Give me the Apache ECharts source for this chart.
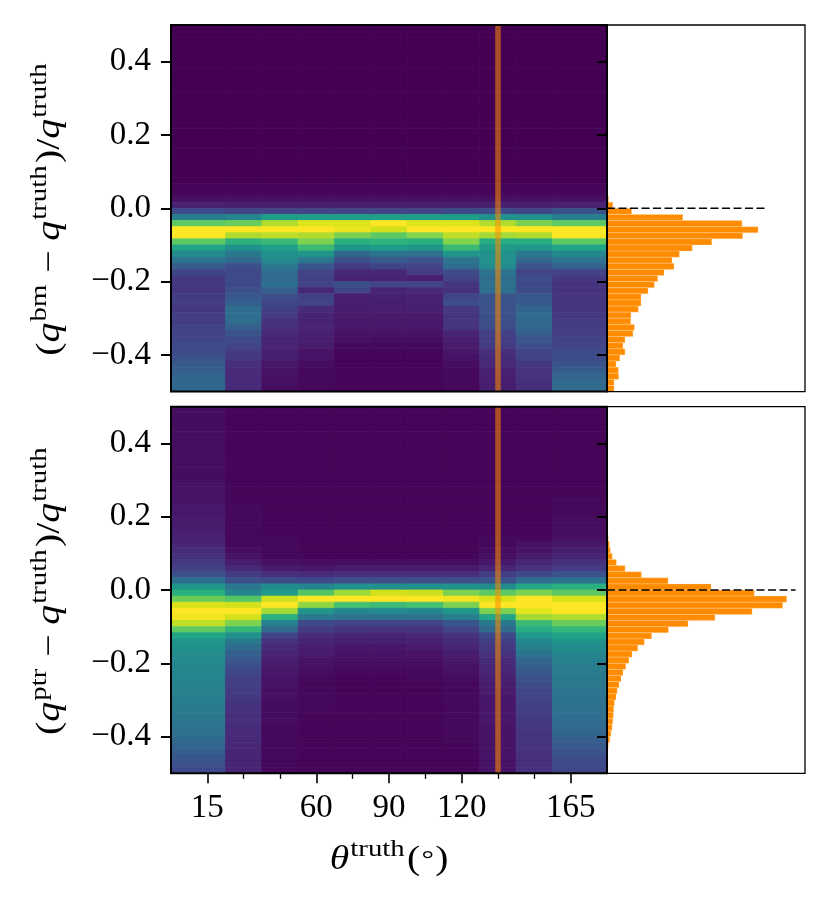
<!DOCTYPE html>
<html><head><meta charset="utf-8">
<script src="https://cdn.jsdelivr.net/npm/echarts@6/dist/echarts.min.js"></script>
<style>html,body{margin:0;padding:0;background:#fff}#c{width:830px;height:905px}</style>
</head><body><div id="c"></div>
<script>
// ---------------- data ----------------
const thetaEdges = [0, 22.5, 37.5, 52.5, 67.5, 82.5, 97.5, 112.5, 127.5, 142.5, 157.5, 180];
const qRange = [-0.5, 0.5];
const nQBins = 60;
const markerTheta = 135;
const xMajorTicks = [15, 60, 90, 120, 165];
const xMinorTicks = [30, 45, 75, 105, 135, 150];
const yTicks = [-0.4, -0.2, 0, 0.2, 0.4];
const histAxisMax = 11.0;

// column-normalised densities; each column listed from q=+0.5 (top row) down to q=-0.5
const bmCol0 = [0,0,0,0,0,0,0,0,0,0,0,0,0,0,0,0,0,0,0,0,0,0,0,0,0,0, 0.01,0.02,0.04,0.09,
  0.22,0.42,0.75,1.0,1.0,0.75,0.58,0.48,0.38,0.29, 0.21,0.16,0.16,0.15,0.17,0.18,0.16,0.18,0.17,0.19, 0.2,0.2,0.22,0.22,0.25,0.28,0.3,0.32,0.33,0.33];
const bmCol1 = [0,0,0,0,0,0,0,0,0,0,0,0,0,0,0,0,0,0,0,0,0,0,0,0,0,0, 0.01,0.02,0.04,0.08,
  0.2,0.45,0.77,1.0,0.88,0.64,0.5,0.4,0.34,0.24, 0.22,0.22,0.22,0.24,0.27,0.3,0.35,0.36,0.35,0.3, 0.25,0.22,0.2,0.17,0.16,0.13,0.12,0.12,0.12,0.12];
const bmCol2 = [0,0,0,0,0,0,0,0,0,0,0,0,0,0,0,0,0,0,0,0,0,0,0,0,0,0, 0.01,0.02,0.04,0.08,
  0.2,0.55,0.88,1.0,0.9,0.68,0.56,0.5,0.47,0.4, 0.35,0.34,0.36,0.3,0.24,0.21,0.19,0.17,0.14,0.13, 0.12,0.1,0.1,0.09,0.08,0.06,0.05,0.04,0.04,0.03];
const bmCol3 = [0,0,0,0,0,0,0,0,0,0,0,0,0,0,0,0,0,0,0,0,0,0,0,0,0,0, 0.01,0.02,0.04,0.08,
  0.2,0.55,0.95,1.0,0.88,0.8,0.68,0.52,0.4,0.27, 0.2,0.19,0.2,0.11,0.19,0.2,0.12,0.1,0.09,0.1, 0.08,0.08,0.07,0.05,0.05,0.03,0.02,0.02,0.02,0.02];
const bmCol4 = [0,0,0,0,0,0,0,0,0,0,0,0,0,0,0,0,0,0,0,0,0,0,0,0,0,0, 0.01,0.02,0.04,0.08,
  0.2,0.55,0.95,0.97,0.8,0.63,0.52,0.33,0.24,0.17, 0.11,0.09,0.24,0.2,0.08,0.08,0.07,0.07,0.06,0.06, 0.05,0.04,0.02,0.01,0.01,0.01,0.01,0.01,0.01,0.01];
const bmCol5 = [0,0,0,0,0,0,0,0,0,0,0,0,0,0,0,0,0,0,0,0,0,0,0,0,0,0, 0.01,0.02,0.04,0.08,
  0.2,0.55,1.0,0.93,0.75,0.65,0.55,0.38,0.28,0.21, 0.11,0.1,0.2,0.1,0.09,0.08,0.08,0.07,0.06,0.06, 0.05,0.03,0.02,0.01,0.01,0.01,0.01,0.01,0.01,0.01];
const bmCol6 = [0,0,0,0,0,0,0,0,0,0,0,0,0,0,0,0,0,0,0,0,0,0,0,0,0,0, 0.01,0.02,0.04,0.08,
  0.2,0.55,0.95,1.0,0.81,0.63,0.52,0.37,0.25,0.2, 0.17,0.08,0.2,0.12,0.09,0.09,0.08,0.07,0.06,0.06, 0.05,0.03,0.02,0.01,0.01,0.01,0.01,0.01,0.01,0.01];
const bmCol7 = [0,0,0,0,0,0,0,0,0,0,0,0,0,0,0,0,0,0,0,0,0,0,0,0,0,0, 0.01,0.02,0.04,0.08,
  0.22,0.55,0.95,1.0,0.9,0.81,0.68,0.52,0.38,0.36, 0.23,0.2,0.15,0.14,0.2,0.24,0.16,0.15,0.15,0.14, 0.1,0.08,0.07,0.06,0.05,0.03,0.02,0.02,0.02,0.02];
const bmCol8 = [0,0,0,0,0,0,0,0,0,0,0,0,0,0,0,0,0,0,0,0,0,0,0,0,0,0, 0.01,0.02,0.04,0.08,
  0.22,0.5,0.88,1.0,0.86,0.62,0.54,0.5,0.5,0.48, 0.38,0.36,0.37,0.36,0.26,0.25,0.25,0.24,0.24,0.23, 0.19,0.18,0.17,0.13,0.12,0.12,0.09,0.08,0.08,0.08];
const bmCol9 = [0,0,0,0,0,0,0,0,0,0,0,0,0,0,0,0,0,0,0,0,0,0,0,0,0,0, 0.01,0.02,0.04,0.08,
  0.2,0.5,0.8,1.0,0.88,0.62,0.52,0.4,0.33,0.26, 0.2,0.23,0.22,0.23,0.27,0.28,0.32,0.34,0.33,0.33, 0.3,0.26,0.24,0.2,0.19,0.16,0.14,0.14,0.13,0.13];
const bmCol10 = [0,0,0,0,0,0,0,0,0,0,0,0,0,0,0,0,0,0,0,0,0,0,0,0,0,0, 0.01,0.02,0.04,0.09,
  0.25,0.42,0.75,1.0,1.0,0.75,0.58,0.46,0.38,0.31, 0.2,0.16,0.14,0.14,0.15,0.15,0.15,0.16,0.17,0.17, 0.18,0.19,0.2,0.22,0.23,0.25,0.28,0.32,0.34,0.34];

const ptrCol0 = [0.03,0.03,0.03,0.03,0.03,0.03,0.03,0.03,0.03,0.03,0.03,0.03, 0.05,0.05,0.05,0.05, 0.06,0.06,0.07,0.07,
  0.08,0.09,0.1,0.12,0.14,0.16,0.19,0.25,0.36,0.52, 0.63,0.77,0.94,1.0,0.98,0.9,0.75,0.58,0.52,0.5,
  0.48,0.47,0.46,0.45,0.45,0.44,0.43,0.42,0.42,0.41, 0.4,0.39,0.38,0.36,0.34,0.32,0.3,0.27,0.25,0.22];
const ptrCol1 = [0.01,0.01,0.01,0.01,0.01,0.01,0.01,0.01,0.01,0.01,0.01,0.01,0.01,0.01,0.01,0.01, 0.02,0.02,0.02,0.02,0.02,0.02,0.02,
  0.03,0.05,0.07,0.11,0.17,0.24,0.4,
  0.45,0.73,0.93,1.0,0.93,0.8,0.66,0.5,0.4,0.35, 0.3,0.27,0.24,0.21,0.19,0.18,0.17,0.16,0.15,0.14, 0.13,0.13,0.12,0.12,0.11,0.11,0.1,0.1,0.1,0.1];
const ptrCol2 = [0.01,0.01,0.01,0.01,0.01,0.01,0.01,0.01,0.01,0.01,0.01,0.01,0.01,0.01,0.01,0.01,0.01,0.01,0.01,0.01,0.01, 0.02,0.02,0.02,0.02,
  0.04,0.07,0.13,0.23,0.48,
  0.54,0.92,1.0,0.86,0.63,0.43,0.34,0.2,0.14,0.12, 0.1,0.08,0.07,0.06,0.05,0.05,0.04,0.04,0.03,0.03, 0.03,0.03,0.02,0.02,0.02,0.02,0.02,0.02,0.02,0.02];
const ptrCol3 = [0.01,0.01,0.01,0.01,0.01,0.01,0.01,0.01,0.01,0.01,0.01,0.01,0.01,0.01,0.01,0.01,0.01,0.01,0.01,0.01,0.01,0.01,0.01,0.01,0.01,
  0.03,0.06,0.12,0.22,0.45,
  0.73,1.0,0.83,0.52,0.4,0.22,0.17,0.12,0.1,0.08, 0.07,0.05,0.04,0.03,0.02,0.02,0.02,0.02,0.02,0.02, 0.01,0.01,0.01,0.01,0.01,0.01,0.01,0.01,0.01,0.01];
const ptrCol4 = [0.01,0.01,0.01,0.01,0.01,0.01,0.01,0.01,0.01,0.01,0.01,0.01,0.01,0.01,0.01,0.01,0.01,0.01,0.01,0.01,0.01,0.01,0.01,0.01,0.01,
  0.03,0.07,0.13,0.24,0.5,
  0.85,1.0,0.7,0.45,0.37,0.2,0.15,0.1,0.08,0.06, 0.05,0.04,0.03,0.02,0.01,0.01,0.01,0.01,0.01,0.01, 0.01,0.01,0.01,0.01,0.01,0.01,0.01,0.01,0.01,0.01];
const ptrCol5 = [0.01,0.01,0.01,0.01,0.01,0.01,0.01,0.01,0.01,0.01,0.01,0.01,0.01,0.01,0.01,0.01,0.01,0.01,0.01,0.01,0.01,0.01,0.01,0.01,0.01,
  0.03,0.07,0.13,0.24,0.5,
  0.93,1.0,0.68,0.47,0.37,0.2,0.14,0.1,0.08,0.06, 0.05,0.04,0.03,0.02,0.01,0.01,0.01,0.01,0.01,0.01, 0.01,0.01,0.01,0.01,0.01,0.01,0.01,0.01,0.01,0.01];
const ptrCol6 = [0.01,0.01,0.01,0.01,0.01,0.01,0.01,0.01,0.01,0.01,0.01,0.01,0.01,0.01,0.01,0.01,0.01,0.01,0.01,0.01,0.01,0.01,0.01,0.01,0.01,
  0.03,0.07,0.13,0.24,0.5,
  0.92,1.0,0.7,0.45,0.37,0.2,0.15,0.11,0.09,0.07, 0.05,0.04,0.03,0.02,0.02,0.01,0.01,0.01,0.01,0.01, 0.01,0.01,0.01,0.01,0.01,0.01,0.01,0.01,0.01,0.01];
const ptrCol7 = [0.01,0.01,0.01,0.01,0.01,0.01,0.01,0.01,0.01,0.01,0.01,0.01,0.01,0.01,0.01,0.01,0.01,0.01,0.01,0.01,0.01,0.01,0.01,0.01,0.01,
  0.03,0.07,0.13,0.24,0.5,
  0.8,0.98,0.8,0.52,0.42,0.26,0.2,0.14,0.12,0.1, 0.08,0.06,0.05,0.04,0.03,0.02,0.02,0.02,0.02,0.02, 0.02,0.02,0.02,0.02,0.02,0.01,0.01,0.01,0.01,0.01];
const ptrCol8 = [0.01,0.01,0.01,0.01,0.01,0.01,0.01,0.01,0.01,0.01,0.01,0.01,0.01,0.01,0.01,0.01,0.01,0.01,0.01,0.01,0.01, 0.02,0.02,0.03,0.04,
  0.06,0.1,0.18,0.25,0.48,
  0.75,0.94,1.0,0.8,0.58,0.4,0.34,0.22,0.18,0.16, 0.14,0.12,0.11,0.1,0.09,0.08,0.07,0.06,0.06,0.06, 0.06,0.06,0.05,0.05,0.05,0.05,0.05,0.05,0.05,0.05];
const ptrCol9 = [0.01,0.01,0.01,0.01,0.01,0.01,0.01,0.01,0.01,0.01,0.01,0.01,0.01,0.01,0.01,0.01,0.01,0.01,0.01,0.01,0.01, 0.02,0.04,0.05,0.07,
  0.1,0.14,0.22,0.35,0.6,
  0.8,1.0,1.0,0.96,0.86,0.68,0.62,0.53,0.46,0.43, 0.38,0.33,0.3,0.27,0.25,0.23,0.21,0.2,0.19,0.18, 0.17,0.16,0.16,0.15,0.15,0.14,0.14,0.13,0.13,0.13];
const ptrCol10 = [0.01,0.01,0.01,0.01,0.01,0.01,0.01,0.01,0.01,0.01,0.01,0.01,0.01,0.01,0.01, 0.02,0.02,0.02,0.03,0.03,0.03, 0.04,0.06,0.08,0.1,
  0.13,0.17,0.25,0.38,0.63,
  0.75,0.94,1.0,1.0,0.88,0.77,0.66,0.57,0.51,0.48, 0.45,0.43,0.42,0.41,0.4,0.4,0.39,0.38,0.38,0.37, 0.36,0.35,0.34,0.32,0.3,0.28,0.26,0.24,0.22,0.21];

// projected histograms (arbitrary density units), rows from q=+0.5 down to q=-0.5
const bmHist = [0,0,0,0,0,0,0,0,0,0,0,0,0,0,0,0,0,0,0,0,0,0,0,0,0,0,0,0, 0.09,0.32,
  1.37,4.21,7.5,8.39,7.54,5.82,4.74,4.02,3.61,3.72, 3.17,2.82,2.63,2.28,1.89,1.89,1.74,1.33,1.32,1.52, 1.44,1.0,0.89,1.0,0.71,0.5,0.63,0.65,0.39,0.39];
const ptrHist = [0,0,0,0,0,0,0,0,0,0,0,0,0,0,0,0,0,0,0, 0.02,0.03,0.07,0.13,0.18,0.29,0.52,1.0,1.91,3.39,5.78,
  8.18,9.98,9.76,8.06,6.0,4.5,3.41,2.48,2.07,1.71, 1.39,1.22,1.04,0.89,0.78,0.67,0.56,0.5,0.41,0.37, 0.35,0.32,0.28,0.22,0.15,0.07,0.03,0.02,0.01,0];

const bmCols = [bmCol0,bmCol1,bmCol2,bmCol3,bmCol4,bmCol5,bmCol6,bmCol7,bmCol8,bmCol9,bmCol10];
const ptrCols = [ptrCol0,ptrCol1,ptrCol2,ptrCol3,ptrCol4,ptrCol5,ptrCol6,ptrCol7,ptrCol8,ptrCol9,ptrCol10];

// ---------------- build ----------------
const binW = (qRange[1] - qRange[0]) / nQBins;
function heatData(cols) {
  const out = [];
  cols.forEach((col, c) => col.forEach((v, r) => {
    const yHi = qRange[1] - r * binW, yLo = yHi - binW;
    out.push([thetaEdges[c], thetaEdges[c + 1], yLo, yHi, v]);
  }));
  return out;
}
function histData(h) {
  return h.map((v, r) => { const yHi = qRange[1] - r * binW; return [yHi - binW, yHi, v]; });
}
const viridis = ['#440154','#48186a','#472d7b','#424086','#3b528b','#33638d','#2c728e','#26828e','#21918c','#1fa088','#28ae80','#3fbc73','#5ec962','#84d44b','#addc30','#d8e219','#fde725'];
const serif = "'Liberation Serif', 'DejaVu Serif', serif";

function heatRender(params, api) {
  const p0 = api.coord([api.value(0), api.value(3)]);
  const p1 = api.coord([api.value(1), api.value(2)]);
  const col = api.visual('color');
  return { type: 'rect', shape: { x: p0[0], y: p0[1], width: p1[0] - p0[0], height: p1[1] - p0[1] },
    style: { fill: col, stroke: col, lineWidth: 0.8 } };
}
function histRender(params, api) {
  const p0 = api.coord([0, api.value(1)]);
  const p1 = api.coord([api.value(2), api.value(0)]);
  return { type: 'rect', shape: { x: p0[0], y: p0[1], width: p1[0] - p0[0], height: p1[1] - p0[1] },
    style: { fill: '#ff8c00', stroke: 'rgba(255,220,180,0.6)', lineWidth: 0.5 } };
}

const heatTop = 25, heatH = 366.6, gap = 381.7;
const grids = [
  { left: 171, top: heatTop, width: 436, height: heatH },
  { left: 607, top: heatTop, width: 198, height: heatH },
  { left: 171, top: heatTop + gap, width: 436, height: heatH },
  { left: 607, top: heatTop + gap, width: 198, height: heatH }
].map((g, i) => Object.assign(g, { show: true, z: 5, backgroundColor: 'transparent', borderColor: '#000', borderWidth: i % 2 === 0 ? 2 : 1.3 }));

const noLine = { show: false, onZero: false };
const fmtY = v => (v < 0 ? '\u2212' : '') + Math.abs(v).toFixed(1);
function heatY(gi) {
  return { type: 'value', gridIndex: gi, position: 'left', min: qRange[0], max: qRange[1], z: 6,
    axisLine: noLine, splitLine: { show: false },
    axisTick: { show: true, customValues: yTicks, length: 10, lineStyle: { color: '#000', width: 2 } },
    axisLabel: { show: true, customValues: yTicks, formatter: fmtY, margin: 20, fontFamily: serif, fontSize: 33, color: '#000' } };
}
function histY(gi) {
  return { type: 'value', gridIndex: gi, position: 'left', min: qRange[0], max: qRange[1], z: 6,
    axisLine: noLine, splitLine: { show: false },
    axisTick: { show: true, customValues: yTicks, length: 10, lineStyle: { color: '#000', width: 2 } },
    axisLabel: { show: false } };
}
const hiddenX = gi => ({ type: 'value', gridIndex: gi, position: 'bottom', min: 0, max: 180, axisLine: noLine, axisTick: { show: false }, axisLabel: { show: false }, splitLine: { show: false } });
const histX = gi => ({ type: 'value', gridIndex: gi, position: 'bottom', min: 0, max: histAxisMax, axisLine: noLine, axisTick: { show: false }, axisLabel: { show: false }, splitLine: { show: false } });

const xAxes = [
  hiddenX(0),
  histX(1),
  { type: 'value', gridIndex: 2, position: 'bottom', min: 0, max: 180, z: 6, axisLine: noLine, splitLine: { show: false },
    axisTick: { show: true, customValues: xMajorTicks, length: 10, lineStyle: { color: '#000', width: 1.6 } },
    axisLabel: { show: true, customValues: xMajorTicks, formatter: v => String(v), margin: 19, fontFamily: serif, fontSize: 33, color: '#000' } },
  { type: 'value', gridIndex: 2, position: 'bottom', offset: 0, min: 0, max: 180, z: 6, axisLine: noLine, splitLine: { show: false },
    axisTick: { show: true, customValues: xMinorTicks, length: 5.5, lineStyle: { color: '#000', width: 1.3 } },
    axisLabel: { show: false } },
  histX(3)
];
const yAxes = [heatY(0), histY(1), heatY(2), histY(3)];

function panelSeries(cols, hist, xHeat, yHeat, xHist, yHist) {
  const hmax = Math.max(...hist);
  return [
    { type: 'custom', xAxisIndex: xHeat, yAxisIndex: yHeat, renderItem: heatRender, data: heatData(cols),
      encode: { x: [0, 1], y: [2, 3] }, z: 2, silent: true },
    { type: 'line', xAxisIndex: xHeat, yAxisIndex: yHeat, data: [[markerTheta, qRange[0]], [markerTheta, qRange[1]]],
      symbol: 'none', lineStyle: { color: 'rgba(255,140,0,0.55)', width: 5.5 }, z: 3, silent: true },
    { type: 'custom', xAxisIndex: xHist, yAxisIndex: yHist, renderItem: histRender, data: histData(hist),
      encode: { x: 2, y: [0, 1] }, z: 2, silent: true },
    { type: 'line', xAxisIndex: xHist, yAxisIndex: yHist, data: [[0, 0], [hmax * 1.05, 0]],
      symbol: 'none', lineStyle: { color: '#000', width: 1.4, type: [8, 3.5] }, z: 3, silent: true }
  ];
}

const richMain = { fontFamily: serif, fontSize: 33, lineHeight: 44 };
const rich = {
  p: Object.assign({}, richMain),
  q: Object.assign({ fontStyle: 'italic' }, richMain),
  m: Object.assign({ padding: [0, 8, 0, 8] }, richMain),
  s: { fontFamily: serif, fontSize: 24, lineHeight: 26, verticalAlign: 'top', padding: [0, 2, 0, 1] },
  d: { fontFamily: serif, fontSize: 26, lineHeight: 44, padding: [0, 1, 0, 1] }
};
function yTitle(y, sup) {
  return { type: 'text', x: 50, y: y, rotation: Math.PI / 2, scaleX: 1.2, silent: true,
    style: { text: '{p|(}{q|q}{s|' + sup + '}{m|\u2212}{q|q}{s|truth}{p|)/}{q|q}{s|truth}', rich: rich,
      align: 'center', verticalAlign: 'middle', fill: '#000' } };
}

const chart = echarts.init(document.getElementById('c'), null, { renderer: 'canvas' });
chart.setOption({
  animation: false,
  backgroundColor: '#fff',
  grid: grids,
  xAxis: xAxes,
  yAxis: yAxes,
  visualMap: { type: 'continuous', show: false, min: 0, max: 1, dimension: 4, seriesIndex: [0, 4], inRange: { color: viridis } },
  series: [].concat(
    panelSeries(bmCols, bmHist, 0, 0, 1, 1),
    panelSeries(ptrCols, ptrHist, 2, 2, 4, 3)
  ),
  graphic: [
    yTitle(heatTop + heatH / 2, 'bm'),
    yTitle(heatTop + gap + heatH / 2, 'ptr'),
    { type: 'text', x: 389, y: 860, scaleX: 1.2, silent: true,
      style: { text: '{q|\u03b8}{s|truth}{p|(}{d|\u00b0}{p|)}', rich: rich, align: 'center', verticalAlign: 'middle', fill: '#000' } }
  ]
});
</script></body></html>
